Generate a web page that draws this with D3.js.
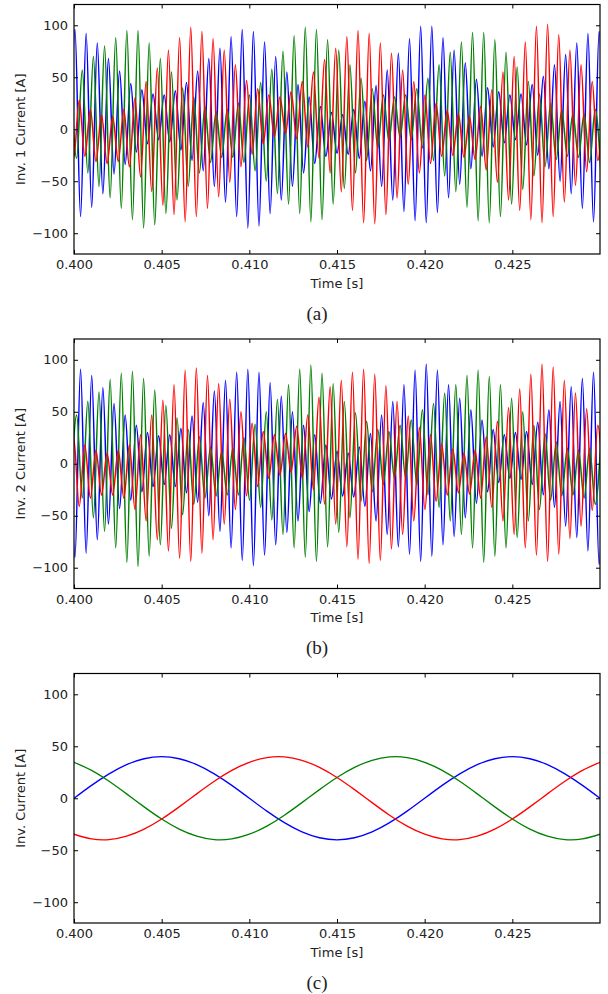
<!DOCTYPE html>
<html>
<head>
<meta charset="utf-8">
<script src="https://cdn.jsdelivr.net/npm/d3@7/dist/d3.min.js"></script>
<style>
  body { margin: 0; background: #fff; }
  svg text { font-family: 'DejaVu Sans', sans-serif; fill: #222; }
  .caption { font-family: 'Liberation Serif', 'Times New Roman', serif; font-size: 19px; }
</style>
</head>
<body>
<svg id="chart" width="608" height="994"></svg>
<script>
const xTicks = [0.400, 0.405, 0.410, 0.415, 0.420, 0.425]
const yTicks = [-100, -50, 0, 50, 100]

// ripple extrema (a) and (b): alternating peak / trough,
// half a ripple period apart, first sample time per phase
const halfStep = 0.000318
const blueStart = 0.399738
const greenStart = 0.399835
const redStart = 0.399663

const inv1Blue = [-88, 96, -84, 92, -75, 83, -62, 68, -43, 56, -34, 44, -22, 38, -14, 34, -10, 33, -12, 37,
  -20, 45, -30, 56, -40, 68, -55, 78, -70, 89, -84, 96, -95, 94, -93, 84, -81, 70, -68, 55,
  -55, 43, -42, 31, -33, 22, -26, 16, -23, 14, -24, 19, -28, 27, -40, 42, -55, 57, -68, 73,
  -79, 87, -88, 99, -90, 99, -80, 88, -66, 76, -53, 64, -38, 48, -26, 40, -17, 36, -13, 33,
  -10, 34, -15, 43, -25, 51, -38, 62, -50, 72, -62, 83, -76, 92, -89, 94, -92]
const inv1Green = [45, -28, 57, -42, 70, -55, 80, -66, 88, -76, 95, -87, 95, -95, 83, -92, 68, -81, 55, -68,
  40, -55, 31, -42, 22, -32, 17, -27, 19, -27, 25, -32, 33, -40, 45, -50, 58, -62, 75, -72,
  90, -81, 98, -89, 96, -87, 86, -72, 76, -57, 62, -42, 49, -30, 39, -18, 33, -11, 31, -8,
  33, -10, 39, -18, 49, -30, 62, -45, 74, -60, 84, -75, 93, -88, 93, -90, 86, -84, 74, -72,
  60, -58, 46, -45, 34, -36, 25, -29, 19, -26, 15, -27, 15, -32, 19, -40]
const inv1Red = [35, -28, 28, -26, 19, -31, 14, -33, 12, -31, 19, -36, 30, -46, 46, -60, 59, -73, 76, -82,
  88, -89, 98, -84, 94, -76, 87, -65, 76, -51, 62, -36, 47, -24, 39, -14, 33, -7, 31, -4,
  36, -9, 46, -17, 55, -28, 67, -42, 78, -60, 89, -78, 95, -90, 92, -91, 83, -82, 73, -66,
  57, -53, 46, -42, 33, -33, 25, -26, 18, -25, 15, -27, 12, -29, 22, -39, 38, -51, 55, -68,
  70, -78, 84, -87, 99, -90, 101, -84, 91, -70, 76, -54, 62, -41, 46, -30, 33]

const inv2Blue = [88, -90, 91, -86, 85, -73, 73, -58, 58, -43, 47, -35, 37, -27, 30, -22, 27, -20, 28, -22,
  34, -28, 46, -37, 59, -50, 70, -65, 80, -81, 88, -93, 91, -98, 88, -88, 78, -78, 65, -66,
  50, -55, 37, -46, 28, -38, 18, -34, 12, -31, 10, -32, 16, -41, 29, -55, 47, -68, 60, -80,
  76, -87, 90, -94, 96, -89, 90, -78, 76, -70, 63, -52, 52, -38, 42, -27, 33, -18, 28, -14,
  30, -15, 31, -20, 40, -30, 52, -42, 60, -60, 74, -71, 82, -84, 88, -97, 95]
const inv2Green = [-25, 47, -33, 60, -52, 69, -65, 81, -81, 87, -95, 89, -99, 82, -89, 71, -78, 56, -62, 44,
  -49, 33, -39, 26, -33, 16, -31, 12, -30, 15, -30, 25, -35, 38, -42, 50, -54, 62, -68, 76,
  -81, 91, -90, 95, -94, 87, -80, 77, -66, 60, -52, 49, -36, 41, -27, 33, -20, 31, -14, 37,
  -14, 42, -20, 52, -30, 58, -42, 68, -55, 76, -68, 85, -81, 90, -95, 84, -89, 76, -81, 63,
  -71, 50, -55, 37, -44, 29, -35, 21, -31, 15, -30, 13, -33, 15, -39, 20]
const inv2Red = [-48, 25, -41, 18, -33, 13, -30, 10, -30, 13, -33, 18, -44, 28, -55, 47, -73, 61, -84, 76,
  -91, 90, -94, 92, -86, 85, -73, 77, -58, 62, -44, 50, -31, 39, -22, 31, -14, 28, -11, 29,
  -8, 36, -14, 47, -25, 64, -39, 74, -58, 80, -80, 88, -92, 91, -96, 86, -93, 75, -82, 60,
  -68, 46, -55, 35, -44, 28, -36, 19, -30, 14, -28, 10, -29, 13, -33, 26, -42, 41, -55, 54,
  -68, 72, -81, 86, -88, 96, -94, 93, -87, 80, -72, 68, -60, 53, -45, 37, -35]

// panel (c), sampled every millisecond from 0.400 s
const fundStart = 0.400
const fundStep = 0.001
const fundBlue = [0, 12.4, 23.5, 32.4, 38, 40, 38, 32.4, 23.5, 12.4, 0, -12.4, -23.5, -32.4, -38, -40,
  -38, -32.4, -23.5, -12.4, 0, 12.4, 23.5, 32.4, 38, 40, 38, 32.4, 23.5, 12.4, 0]
const fundGreen = [34.6, 26.8, 16.3, 4.2, -8.3, -20, -29.7, -36.5, -39.8, -39.1, -34.6, -26.8, -16.3, -4.2, 8.3, 20,
  29.7, 36.5, 39.8, 39.1, 34.6, 26.8, 16.3, 4.2, -8.3, -20, -29.7, -36.5, -39.8, -39.1, -34.6]
const fundRed = [-34.6, -39.1, -39.8, -36.5, -29.7, -20, -8.3, 4.2, 16.3, 26.8, 34.6, 39.1, 39.8, 36.5, 29.7, 20,
  8.3, -4.2, -16.3, -26.8, -34.6, -39.1, -39.8, -36.5, -29.7, -20, -8.3, 4.2, 16.3, 26.8, 34.6]

const svg = d3.select('#chart')
const left = 74, right = 600, panelH = 249.5
const x = d3.scaleLinear().domain([0.4, 0.43]).range([left, right])

const toPoints = (values, start, step) => values.map((v, i) => [start + i * step, v])

const panels = [
  {
    top: 4.5, ylabel: 'Inv. 1 Current [A]', caption: '(a)', curve: d3.curveMonotoneX, lw: 1.5,
    series: [
      { color: '#0000ff', pts: toPoints(inv1Blue, blueStart, halfStep) },
      { color: '#008000', pts: toPoints(inv1Green, greenStart, halfStep) },
      { color: '#ff0000', pts: toPoints(inv1Red, redStart, halfStep) }
    ]
  },
  {
    top: 339, ylabel: 'Inv. 2 Current [A]', caption: '(b)', curve: d3.curveMonotoneX, lw: 1.5,
    series: [
      { color: '#0000ff', pts: toPoints(inv2Blue, blueStart, halfStep) },
      { color: '#008000', pts: toPoints(inv2Green, greenStart, halfStep) },
      { color: '#ff0000', pts: toPoints(inv2Red, redStart, halfStep) }
    ]
  },
  {
    top: 673.5, ylabel: 'Inv. Current [A]', caption: '(c)', curve: d3.curveNatural, lw: 1.3,
    series: [
      { color: '#0000ff', pts: toPoints(fundBlue, fundStart, fundStep) },
      { color: '#008000', pts: toPoints(fundGreen, fundStart, fundStep) },
      { color: '#ff0000', pts: toPoints(fundRed, fundStart, fundStep) }
    ]
  }
]

panels.forEach((p, i) => {
  const bottom = p.top + panelH
  const y = d3.scaleLinear().domain([-120, 120]).range([bottom, p.top])
  const g = svg.append('g')

  g.append('clipPath').attr('id', 'clip' + i)
    .append('rect')
    .attr('x', left).attr('y', p.top)
    .attr('width', right - left).attr('height', panelH)

  const line = d3.line().x(d => x(d[0])).y(d => y(d[1])).curve(p.curve)
  p.series.forEach(s => {
    g.append('path')
      .attr('clip-path', `url(#clip${i})`)
      .attr('d', line(s.pts))
      .attr('fill', 'none')
      .attr('stroke', s.color)
      .attr('stroke-width', p.lw)
      .attr('stroke-linejoin', 'round')
  })

  // ticks point inward on all four sides
  const styleAxis = a => {
    a.select('.domain').remove()
    a.selectAll('.tick line').attr('stroke', '#000')
    a.selectAll('.tick text').attr('font-size', 13).attr('font-family', 'DejaVu Sans').attr('fill', '#222')
  }
  g.append('g').attr('transform', `translate(0,${bottom})`)
    .call(d3.axisBottom(x).tickValues(xTicks).tickFormat(d3.format('.3f')).tickSizeInner(-4).tickSizeOuter(0).tickPadding(6))
    .call(styleAxis)
  g.append('g').attr('transform', `translate(0,${p.top})`)
    .call(d3.axisTop(x).tickValues(xTicks).tickFormat('').tickSizeInner(-4).tickSizeOuter(0))
    .call(styleAxis)
  g.append('g').attr('transform', `translate(${left},0)`)
    .call(d3.axisLeft(y).tickValues(yTicks).tickFormat(d3.format('d')).tickSizeInner(-4).tickSizeOuter(0).tickPadding(6))
    .call(styleAxis)
  g.append('g').attr('transform', `translate(${right},0)`)
    .call(d3.axisRight(y).tickValues(yTicks).tickFormat('').tickSizeInner(-4).tickSizeOuter(0))
    .call(styleAxis)

  g.append('rect')
    .attr('x', left).attr('y', p.top)
    .attr('width', right - left).attr('height', panelH)
    .attr('fill', 'none').attr('stroke', '#000').attr('stroke-width', 1.2)

  g.append('text')
    .attr('transform', `translate(25,${p.top + panelH / 2}) rotate(-90)`)
    .attr('text-anchor', 'middle')
    .attr('font-size', 13)
    .text(p.ylabel)

  g.append('text')
    .attr('x', (left + right) / 2).attr('y', bottom + 33.5)
    .attr('text-anchor', 'middle')
    .attr('font-size', 13)
    .text('Time [s]')

  g.append('text')
    .attr('class', 'caption')
    .attr('x', 317).attr('y', bottom + 65.5)
    .attr('text-anchor', 'middle')
    .text(p.caption)
})
</script>
</body>
</html>
